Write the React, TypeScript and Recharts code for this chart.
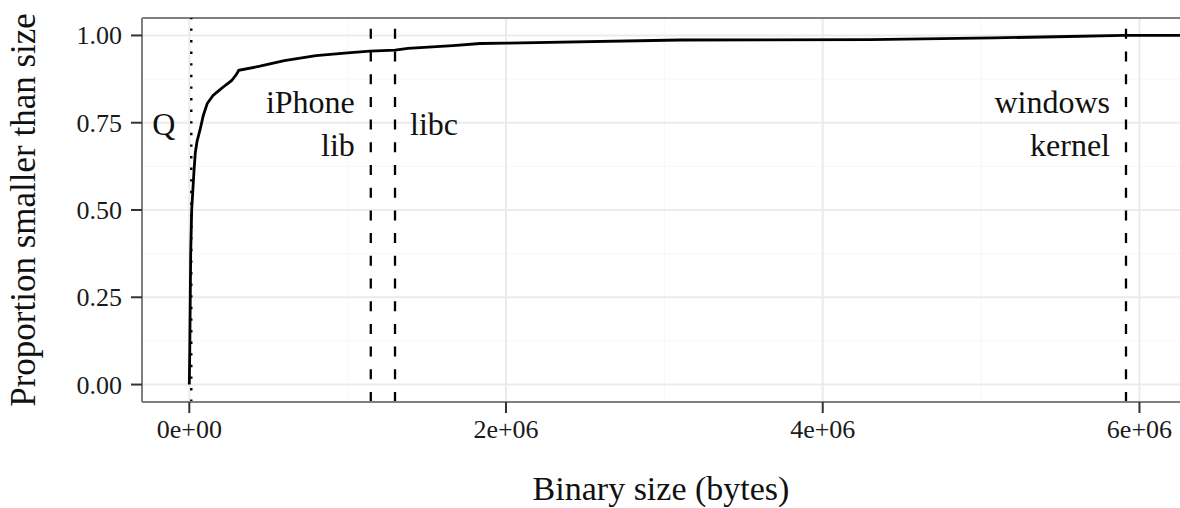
import { CartesianGrid, ComposedChart, Line, ReferenceDot, ReferenceLine, XAxis, YAxis } from "recharts";

const sizeBytes = [
  0, 3000, 8800, 15000, 30000, 38000, 49000, 68000, 88000, 113000, 150000, 194000, 230000, 268000, 300000,
  312000, 446000, 600000, 800000, 1000000, 1140000, 1300000, 1380000, 1665000, 1836000, 2000000, 3100000,
  4300000, 5080000, 5550000, 5900000, 6256000,
];
const propSmaller = [
  0, 0.1, 0.376, 0.5, 0.615, 0.664, 0.697, 0.73, 0.77, 0.805, 0.828, 0.845, 0.858, 0.871, 0.89, 0.9, 0.912,
  0.928, 0.942, 0.95, 0.955, 0.958, 0.963, 0.971, 0.977, 0.978, 0.987, 0.988, 0.993, 0.997, 1, 1,
];

// reference binaries
const markerNames = ["Q", "iPhone\nlib", "libc", "windows\nkernel"];
const markerSizes = [12600, 1146000, 1299000, 5915000];
const markerKinds = ["dotted", "dashed", "dashed", "dashed"];
const markerSides = ["left", "left", "right", "left"];
const markerY = 0.75;

const xTicks = [0, 2000000, 4000000, 6000000];
const xMinor = [1000000, 3000000, 5000000];
const yTicks = [0, 0.25, 0.5, 0.75, 1];
const yMinor = [0.125, 0.375, 0.625, 0.875];

const X_DOMAIN: [number, number] = [-298700, 6256000];
const Y_DOMAIN: [number, number] = [-0.05, 1.05];

const FONT = "'Liberation Serif', 'Times New Roman', serif";

const rows = sizeBytes.map((s, i) => ({ size: s, prop: propSmaller[i] }));

const sci = (v: number) => {
  if (v === 0) return "0e+00";
  const e = Math.floor(Math.log10(Math.abs(v)));
  const m = v / Math.pow(10, e);
  return `${m}e+${String(e).padStart(2, "0")}`;
};

const XTick = (props: any) => {
  const { x, y, payload } = props;
  return (
    <text x={x} y={y + 18} textAnchor="middle" fontFamily={FONT} fontSize={26} fill="#1a1a1a">
      {sci(payload.value)}
    </text>
  );
};

const YTick = (props: any) => {
  const { x, y, payload } = props;
  return (
    <text x={x} y={y + 9} textAnchor="end" fontFamily={FONT} fontSize={26} fill="#1a1a1a">
      {Number(payload.value).toFixed(2)}
    </text>
  );
};

const MarkerText = (props: any) => {
  const { cx, cy, text, side } = props;
  const lines = String(text).split("\n");
  const n = lines.length;
  const x = side === "left" ? cx - 16 : cx + 15;
  return (
    <text
      x={x}
      y={cy}
      textAnchor={side === "left" ? "end" : "start"}
      fontFamily={FONT}
      fontSize={32}
      fill="#111"
    >
      {lines.map((l, i) => (
        <tspan key={i} x={x} y={cy + 12 + 43 * (i - (n - 1) / 2)}>
          {l}
        </tspan>
      ))}
    </text>
  );
};

const App = () => {
  return (
    <div
      style={{ position: "absolute", left: 0, top: 0, width: 1180, height: 508, background: "#fff", fontFamily: FONT }}
    >
      <ComposedChart width={1180} height={508} data={rows} margin={{ top: 18, right: 0, left: 0, bottom: 0 }}>
        <CartesianGrid stroke="#f7f7f7" strokeWidth={1} horizontalValues={yMinor} verticalValues={xMinor} />
        <CartesianGrid stroke="#ebebeb" strokeWidth={2} horizontalValues={yTicks} verticalValues={xTicks} />
        <XAxis
          dataKey="size"
          type="number"
          domain={X_DOMAIN}
          allowDataOverflow
          ticks={xTicks}
          height={106}
          tickSize={11}
          tickMargin={7}
          axisLine={{ stroke: "#7f7f7f", strokeWidth: 2 }}
          tickLine={{ stroke: "#333", strokeWidth: 2 }}
          tick={<XTick />}
          label={{
            content: (p: any) => (
              <text
                x={p.viewBox.x + p.viewBox.width / 2}
                y={p.viewBox.y + 98}
                textAnchor="middle"
                fontFamily={FONT}
                fontSize={34}
                fill="#111"
              >
                Binary size (bytes)
              </text>
            ),
          }}
        />
        <YAxis
          type="number"
          domain={Y_DOMAIN}
          allowDataOverflow
          ticks={yTicks}
          width={142}
          tickSize={11}
          tickMargin={9}
          axisLine={{ stroke: "#7f7f7f", strokeWidth: 2 }}
          tickLine={{ stroke: "#333", strokeWidth: 2 }}
          tick={<YTick />}
          label={{
            content: (p: any) => {
              const cy = p.viewBox.y + p.viewBox.height / 2;
              return (
                <text
                  x={35}
                  y={cy}
                  transform={`rotate(-90, 35, ${cy})`}
                  textAnchor="middle"
                  fontFamily={FONT}
                  fontSize={35}
                  fill="#111"
                >
                  Proportion smaller than size
                </text>
              );
            },
          }}
        />
        <ReferenceLine y={Y_DOMAIN[1]} stroke="#7f7f7f" strokeWidth={2} />
        <Line
          type="linear"
          dataKey="prop"
          stroke="#000"
          strokeWidth={2.8}
          dot={false}
          isAnimationActive={false}
        />
        {markerSizes.map((s, i) => (
          <ReferenceLine
            key={"l" + i}
            segment={[
              { x: s, y: Y_DOMAIN[0] },
              { x: s, y: Y_DOMAIN[1] },
            ]}
            stroke="#000"
            strokeWidth={markerKinds[i] === "dotted" ? 2.4 : 2.3}
            strokeDasharray={markerKinds[i] === "dotted" ? "2.4 9.2" : "10 12.7"}
          />
        ))}
        {markerSizes.map((s, i) => (
          <ReferenceDot
            key={"t" + i}
            x={s}
            y={markerY}
            r={0}
            shape={(p: any) => <MarkerText {...p} text={markerNames[i]} side={markerSides[i]} />}
          />
        ))}
      </ComposedChart>
    </div>
  );
};

export default App;
